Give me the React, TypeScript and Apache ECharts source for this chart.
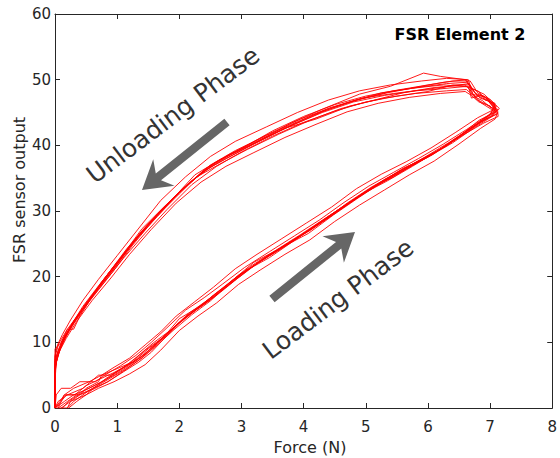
import React, { useEffect, useRef } from "react";
import * as echarts from "echarts";

type Pt = [number, number];

const xTicks = [0, 1, 2, 3, 4, 5, 6, 7, 8];
const yTicks = [0, 10, 20, 30, 40, 50, 60];

const cycleA: Pt[] = [[0,0],[0.15,1],[0.3,2],[0.55,3],[0.75,4],[0.95,5],[1.2,6.5],[1.45,8.2],[1.7,10.5],[2,13],[2.3,15.3],[2.6,17.5],[3,20.4],[3.4,23],[3.8,25.3],[4.2,27.8],[4.6,30.4],[5,32.9],[5.4,35.1],[5.8,37.2],[6.2,39.4],[6.6,42],[6.9,44],[7.1,45.2],[7.05,46.5],[6.9,47.8],[6.72,48.6],[6.62,49.6],[6.3,49.4],[5.9,48.9],[5.4,48.2],[4.9,47],[4.4,45.6],[3.9,43.6],[3.4,41.5],[2.9,39.2],[2.5,37],[2.1,33.8],[1.7,30],[1.35,26.2],[1.0,21.9],[0.7,18.3],[0.45,15.2],[0.25,12.3],[0.1,9.4],[0.02,7],[0,4],[0,0]];
const cycleB: Pt[] = [[0.05,0],[0.2,1],[0.35,2],[0.5,2.8],[0.8,4.2],[1.05,5.8],[1.3,7.2],[1.6,9.5],[1.9,12.2],[2.2,14.6],[2.5,16.5],[2.9,19.5],[3.3,22.4],[3.7,24.8],[4.1,27],[4.5,29.6],[4.9,32.3],[5.3,34.8],[5.7,36.9],[6.1,38.8],[6.5,41.4],[6.85,43.6],[7.12,44.8],[7.08,46],[6.95,47.2],[6.8,48],[6.68,49.8],[6.4,49.8],[6.0,49.2],[5.5,48.4],[5.0,47.5],[4.5,46.2],[4.0,44.4],[3.5,42.2],[3.0,39.5],[2.6,37.5],[2.2,34.6],[1.8,31],[1.4,27],[1.1,23.4],[0.8,19.6],[0.5,16],[0.3,13.2],[0.15,10.6],[0.05,8.2],[0,6],[0,0]];
const cycleC: Pt[] = [[0.1,0],[0.2,0],[0.25,1],[0.4,2],[0.65,3],[0.85,4],[1.1,5.5],[1.35,7],[1.55,8.5],[1.85,11.5],[2.1,13.9],[2.4,15.8],[2.75,18.4],[3.1,21],[3.5,23.6],[3.9,26],[4.3,28.4],[4.7,31.2],[5.1,33.7],[5.5,35.8],[5.9,37.9],[6.3,39.9],[6.7,42.7],[7.0,44.4],[7.15,45.6],[7.0,47],[6.85,47.6],[6.7,47.2],[6.65,49],[6.2,48.6],[5.8,48.3],[5.3,47.6],[4.8,46.6],[4.3,45],[3.8,43],[3.3,40.7],[2.8,38.6],[2.4,36.3],[2,32.6],[1.6,28.8],[1.25,24.8],[0.95,21],[0.65,17.5],[0.4,14.4],[0.2,11.5],[0.08,9],[0.01,6.5],[0,3],[0,0]];
const cycleD: Pt[] = [[0,0],[0.1,1],[0.18,2],[0.4,2],[0.5,3],[0.7,4],[0.75,5],[1.0,6],[1.25,7],[1.5,9],[1.8,11],[2.05,13.5],[2.35,15.5],[2.7,18],[3.05,20.8],[3.45,22.9],[3.85,25.5],[4.25,28.2],[4.65,30.8],[5.05,33.3],[5.45,35.2],[5.85,37.6],[6.25,39.7],[6.6,41.8],[6.95,44.2],[7.08,45.8],[6.98,46.8],[6.8,47.5],[6.6,50],[6.2,50.5],[5.93,51],[5.4,49],[4.9,47.8],[4.3,45.5],[3.8,43.4],[3.3,40.8],[2.9,38.7],[2.45,36.4],[2.05,33.4],[1.65,29.2],[1.3,25.6],[1.0,22.2],[0.7,18.6],[0.45,15.5],[0.22,12],[0.1,10],[0.03,8],[0,5],[0,0]];
const cycleE: Pt[] = [[0.2,0],[0.3,1],[0.45,2],[0.6,3],[0.7,3.5],[0.9,4.6],[1.15,6],[1.4,7.6],[1.65,9.8],[1.95,12.5],[2.25,14.8],[2.55,17.2],[2.9,19.8],[3.25,22],[3.65,24.3],[4.05,26.8],[4.45,29.3],[4.85,31.9],[5.25,34.3],[5.65,36.4],[6.05,38.5],[6.45,41],[6.8,43.2],[7.05,44.6],[7.1,45.3],[6.95,46.2],[6.78,47],[6.7,48.2],[6.6,49.2],[6.1,48.8],[5.6,48],[5.1,46.8],[4.6,45.6],[4.1,43.8],[3.6,41.7],[3.1,39.4],[2.7,37.4],[2.3,35.3],[1.9,32],[1.5,28],[1.15,24.2],[0.85,20.4],[0.6,17],[0.4,14],[0.3,12],[0.2,12],[0.1,10],[0,9],[0,0]];
const cycleF: Pt[] = [[0,0],[0.05,1],[0.2,2],[0.45,3],[0.7,5],[0.9,5],[1.2,6.8],[1.45,8.8],[1.75,10.8],[2.0,13.6],[2.35,15.6],[2.65,17.8],[2.95,20.2],[3.35,22.6],[3.75,25],[4.15,27.4],[4.55,30],[4.95,32.6],[5.35,34.6],[5.75,36.8],[6.15,39.1],[6.55,41.5],[6.9,43.4],[7.13,44.4],[7.12,45.5],[7.0,45.8],[6.88,46.8],[6.75,47.4],[6.62,48.5],[6.3,48.3],[5.8,47.9],[5.3,47.2],[4.75,46],[4.2,44],[3.7,42.6],[3.2,40.2],[2.75,38],[2.35,35.8],[1.95,32.4],[1.55,28.4],[1.2,24.5],[0.9,20.7],[0.6,17.2],[0.35,13.8],[0.15,10.8],[0.05,8.8],[0,7],[0,0]];
const cycleG: Pt[] = [[0,0],[0.12,0],[0.22,1],[0.38,2],[0.62,3],[0.82,4.5],[1.08,6],[1.32,7.8],[1.58,9.9],[1.88,12],[2.15,14.4],[2.45,16.4],[2.8,19],[3.15,21.6],[3.55,24],[3.95,26.4],[4.35,28.9],[4.75,31.4],[5.15,33.9],[5.55,36.1],[5.95,38.2],[6.35,40.5],[6.75,43],[7.02,44.9],[7.08,46.4],[6.92,46.9],[6.82,48.2],[6.64,48.9],[6.25,49.2],[5.75,48.7],[5.25,48],[4.7,46.5],[4.15,44.6],[3.65,42.4],[3.15,40],[2.65,37.8],[2.25,35.5],[1.85,31.4],[1.45,27.4],[1.12,23.6],[0.82,20],[0.55,16.5],[0.32,13.2],[0.12,10.2],[0.04,7.8],[0,6.2],[0,0]];
const cycleH: Pt[] = [[0.05,0],[0.15,2],[0.32,2],[0.5,3.4],[0.72,4.4],[0.95,5.4],[1.18,6.6],[1.42,8],[1.68,10.2],[1.98,12.9],[2.28,15],[2.58,17],[2.92,19.6],[3.28,22.2],[3.68,24.6],[4.08,26.6],[4.48,29.4],[4.88,32],[5.28,34.5],[5.68,36.6],[6.08,38.6],[6.48,41.2],[6.82,43.8],[7.06,45],[7.1,46],[6.9,47.4],[6.7,47.8],[6.66,49.4],[6.35,49],[5.95,48.5],[5.45,47.9],[4.95,47.2],[4.45,45.8],[3.95,44],[3.45,41.8],[2.95,39.3],[2.55,37],[2.15,34.2],[1.75,30.6],[1.4,27.3],[1.05,22.8],[0.75,19.2],[0.5,15.8],[0.27,12.8],[0.12,10],[0.03,7.5],[0,5.5],[0,0]];
const cycleI: Pt[] = [[0.1,0],[0.25,1],[0.5,2],[0.7,3],[0.95,4],[1.2,5.2],[1.45,6.6],[1.7,8.8],[2.0,11.8],[2.3,14],[2.6,16],[2.95,18.8],[3.3,21],[3.7,23.4],[4.1,25.6],[4.5,28.4],[4.9,30.9],[5.3,33.2],[5.7,35.5],[6.1,37.6],[6.5,40.2],[6.85,42.6],[7.08,44],[7.12,45],[7.0,45.6],[6.85,46.5],[6.72,47.9],[6.65,50],[6.3,50.2],[5.9,49.8],[5.4,49.2],[4.9,48.3],[4.4,46.9],[3.9,45],[3.4,42.8],[2.9,40.6],[2.5,38.3],[2.1,35.2],[1.7,31.6],[1.3,26.8],[1.0,23.2],[0.7,19.6],[0.45,16.4],[0.25,13.4],[0.12,11.2],[0.04,9.6],[0,8],[0,0]];
const cycleJ: Pt[] = [[0,0],[0.08,1],[0.15,2],[0.3,3],[0.55,4],[0.75,5],[0.95,6.2],[1.2,7.6],[1.45,9.6],[1.7,11.6],[1.95,14],[2.25,16.2],[2.55,18.4],[2.9,21.2],[3.25,23.4],[3.65,25.8],[4.05,28.2],[4.45,30.6],[4.85,33.4],[5.25,35.6],[5.65,37.5],[6.05,39.6],[6.45,42],[6.8,44.2],[7.05,45.4],[7.0,46],[6.82,46.6],[6.7,47.6],[6.6,48.2],[6.2,47.9],[5.7,47.3],[5.2,46.4],[4.7,45.1],[4.2,43.2],[3.7,41.2],[3.2,38.9],[2.75,36.8],[2.35,34.4],[1.95,31.2],[1.55,27.2],[1.2,23.4],[0.9,19.8],[0.6,16.4],[0.35,13.2],[0.18,10.6],[0.06,8.4],[0,6.6],[0,0]];
const cycleK: Pt[] = [[0.22,0],[0.35,1],[0.5,2],[0.62,3],[0.85,4],[1.1,5.6],[1.35,7.3],[1.6,9.2],[1.9,11.8],[2.2,14.2],[2.5,16.3],[2.85,19.4],[3.2,22.2],[3.6,24.2],[4.0,26.6],[4.4,29.2],[4.8,31.6],[5.2,34.1],[5.6,36.5],[6.0,38.2],[6.4,40.4],[6.75,42.7],[7.0,44.2],[7.1,44.8],[7.05,45.8],[6.92,47.4],[6.76,47.9],[6.68,49.2],[6.4,49.2],[6.0,48.2],[5.5,47.5],[5.0,46.6],[4.5,45.2],[4.0,43.5],[3.5,41.4],[3.0,39],[2.6,36.8],[2.2,34],[1.8,30.2],[1.45,26.6],[1.1,22.8],[0.8,19.2],[0.55,16.2],[0.3,12.8],[0.15,10.4],[0.05,8.6],[0,7.4],[0,0]];
const cycleL: Pt[] = [[0,0],[0.02,2],[0.1,3],[0.25,3],[0.4,4],[0.65,4],[0.8,5],[1.05,6.4],[1.3,8],[1.55,10],[1.8,12.2],[2.1,14.9],[2.4,16.8],[2.7,18.9],[3.05,21.4],[3.45,23.8],[3.85,26.2],[4.25,28.6],[4.65,31.3],[5.05,33.8],[5.45,35.9],[5.85,38],[6.25,40.2],[6.62,42.4],[6.98,44.6],[7.1,45.5],[6.96,46.8],[6.84,47.2],[6.7,48.6],[6.62,50],[6.25,49.6],[5.85,48.9],[5.35,48],[4.85,46.9],[4.35,45.3],[3.85,43.2],[3.35,41.1],[2.85,38.8],[2.45,36.6],[2.05,33.2],[1.65,29.6],[1.3,25.8],[0.98,21.6],[0.68,18],[0.42,14.8],[0.2,12],[0.06,9.8],[0,7.8],[0,0]];

const cycles: Pt[][] = [cycleA, cycleB, cycleC, cycleD, cycleE, cycleF, cycleG, cycleH, cycleI, cycleJ, cycleK, cycleL];

const titleText = "FSR Element 2";
const xName = "Force (N)";
const yName = "FSR sensor output";

function arrowPoints(tx: number, ty: number, px: number, py: number) {
  const sh = 4.2, headLen = 28, headHalf = 17, notch = 21;
  const dx = px - tx, dy = py - ty;
  const len = Math.hypot(dx, dy);
  const ux = dx / len, uy = dy / len;
  const nx = -uy, ny = ux;
  const jx = px - ux * notch, jy = py - uy * notch;
  const bx = px - ux * headLen, by = py - uy * headLen;
  return [
    [tx + nx * sh, ty + ny * sh],
    [jx + nx * sh, jy + ny * sh],
    [bx + nx * headHalf, by + ny * headHalf],
    [px, py],
    [bx - nx * headHalf, by - ny * headHalf],
    [jx - nx * sh, jy - ny * sh],
    [tx - nx * sh, ty - ny * sh],
  ];
}

export default function App() {
  const ref = useRef<HTMLDivElement>(null);
  useEffect(() => {
    document.body.style.margin = "0";
    if (!ref.current) return;
    const chart = echarts.init(ref.current, null, { renderer: "svg" });
    const font = "DejaVu Sans";
    const axisColor = "#262626";
    const baseAxis = {
      min: 0,
      splitLine: { show: false },
      axisLine: { show: true, onZero: false, lineStyle: { color: axisColor, width: 1 } },
      axisTick: { show: true, inside: true, length: 5, lineStyle: { color: axisColor } },
    };
    const rot = (37 * Math.PI) / 180;
    chart.setOption({
      animation: false,
      backgroundColor: "#ffffff",
      grid: { left: 55, right: 5, top: 14, bottom: 50, containLabel: false },
      xAxis: [
        {
          ...baseAxis,
          type: "value",
          max: xTicks[xTicks.length - 1],
          interval: 1,
          position: "bottom",
          axisLabel: { fontFamily: font, fontSize: 15, color: axisColor, margin: 11 },
        },
        {
          ...baseAxis,
          type: "value",
          max: xTicks[xTicks.length - 1],
          interval: 1,
          position: "top",
          axisLabel: { show: false },
        },
      ],
      yAxis: [
        {
          ...baseAxis,
          type: "value",
          max: yTicks[yTicks.length - 1],
          interval: 10,
          position: "left",
          axisLabel: { fontFamily: font, fontSize: 15, color: axisColor, margin: 4 },
        },
        {
          ...baseAxis,
          type: "value",
          max: yTicks[yTicks.length - 1],
          interval: 10,
          position: "right",
          axisLabel: { show: false },
        },
      ],
      series: cycles.map((c, i) => ({
        type: "line",
        name: "cycle" + (i + 1),
        data: c,
        xAxisIndex: 0,
        yAxisIndex: 0,
        showSymbol: false,
        symbol: "none",
        lineStyle: { color: "#ff0000", width: 0.9 },
        z: 2,
      })),
      graphic: [
        {
          type: "text",
          x: 460,
          y: 34.5,
          style: { text: titleText, fontFamily: font, fontSize: 16, fontWeight: "bold", fill: "#000000", align: "center", verticalAlign: "middle" },
        },
        {
          type: "text",
          x: 310,
          y: 447.5,
          style: { text: xName, fontFamily: font, fontSize: 16, fill: axisColor, align: "center", verticalAlign: "middle" },
        },
        {
          type: "text",
          x: 19.5,
          y: 190,
          rotation: Math.PI / 2,
          style: { text: yName, fontFamily: font, fontSize: 16, fill: axisColor, align: "center", verticalAlign: "middle" },
        },
        {
          type: "text",
          x: 173,
          y: 115,
          rotation: rot,
          style: { text: "Unloading Phase", fontFamily: font, fontSize: 25, fill: "#333333", align: "center", verticalAlign: "middle" },
        },
        {
          type: "text",
          x: 338,
          y: 299,
          rotation: rot,
          style: { text: "Loading Phase", fontFamily: font, fontSize: 25, fill: "#333333", align: "center", verticalAlign: "middle" },
        },
        {
          type: "polygon",
          shape: { points: arrowPoints(227, 122, 142, 190) },
          style: { fill: "#666666" },
        },
        {
          type: "polygon",
          shape: { points: arrowPoints(272, 299, 355, 232) },
          style: { fill: "#666666" },
        },
      ],
    });
    return () => chart.dispose();
  }, []);
  return <div ref={ref} style={{ width: 560, height: 458 }} />;
}
